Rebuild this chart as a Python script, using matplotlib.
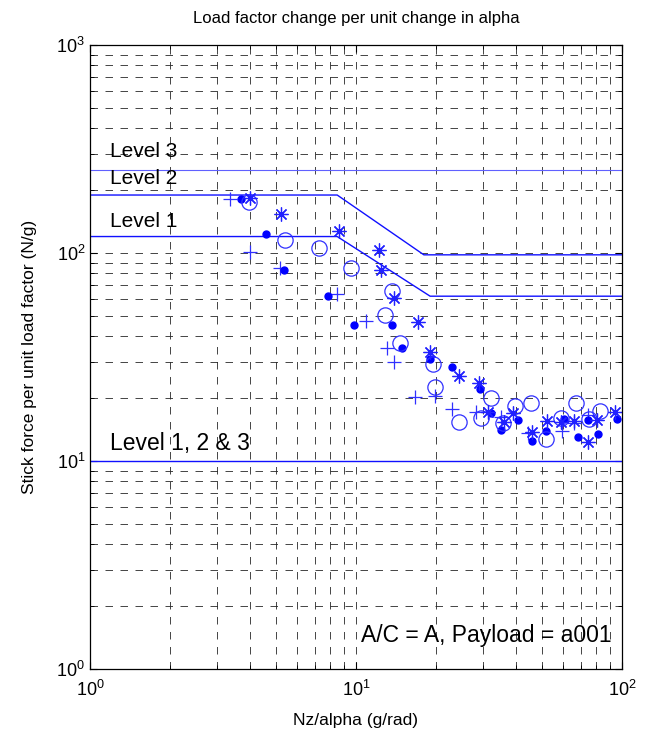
#! /usr/bin/env python3

import matplotlib
matplotlib.use("Agg")
import matplotlib.pyplot as plt
from matplotlib.ticker import LogLocator, NullFormatter

plt.rcParams['font.family'] = ['Liberation Sans', 'DejaVu Sans']
plt.rcParams['mathtext.fontset'] = 'custom'
plt.rcParams['mathtext.rm'] = 'Liberation Sans'

# Requirement boundaries (Nz/alpha, N/g)
lvl1_x = [1, 8.5, 19, 100]
lvl1_y = [120, 120, 62, 62]
lvl2_x = [1, 8.5, 18, 100]
lvl2_y = [190, 190, 98, 98]
lvl3_x = [1, 100]
lvl3_y = [250, 250]
low_x = [1, 100]
low_y = [10, 10]

# Flight test points, one list pair per marker
plus_x = [3.35, 4.0, 5.2, 8.45, 10.9, 13.1, 13.9, 16.7, 19.9, 23.0, 28.3,
          35.2, 44.4, 59.6, 66.1, 74.5]
plus_y = [182, 101, 85, 63.5, 47, 35, 30, 20.3, 20.5, 17.8, 17.2, 16.3,
          13.6, 13.9, 15.2, 16.7]

dot_x = [3.71, 4.6, 5.35, 7.82, 9.87, 13.7, 14.9, 18.9, 22.9, 29.2, 32.2,
         35.2, 40.7, 45.8, 51.6, 60.6, 68.4, 74.5, 81.6, 95.8]
dot_y = [182, 123, 82.9, 62.3, 45.1, 45.1, 34.9, 31.1, 28.3, 22.1, 17.0,
         14.1, 15.7, 12.5, 14.0, 16.0, 13.0, 15.7, 13.5, 16.0]

circ_x = [3.95, 5.42, 7.23, 9.59, 12.9, 13.7, 14.6, 19.5, 19.8, 24.3, 29.4,
          32.2, 35.8, 39.7, 45.4, 51.7, 58.9, 67.0, 75.5, 82.6]
circ_y = [176, 115, 106, 84.7, 50.6, 65.6, 36.9, 29.3, 22.6, 15.4, 16.1,
          20.2, 15.2, 18.3, 19.1, 12.7, 16.1, 19.1, 16.0, 17.4]

star_x = [4.0, 5.24, 8.67, 12.2, 12.4, 13.9, 17.1, 18.9, 24.3, 29.1, 31.4,
          36.1, 39.0, 45.8, 52.3, 58.9, 66.1, 74.8, 80.8, 94.1]
star_y = [184, 154, 128, 103, 82.4, 60.6, 46.8, 33.5, 25.5, 23.7, 17.3,
          15.4, 17.0, 13.8, 15.6, 15.4, 15.6, 12.3, 15.7, 17.2]

fig = plt.figure(figsize=(6.54, 7.4), dpi=100)
ax = fig.add_axes([0.1376, 0.0959, 0.8134, 0.8433])

ax.plot(lvl3_x, lvl3_y, color='#6060ff', lw=0.8)
ax.plot(lvl2_x, lvl2_y, color='#1010ff', lw=1.0)
ax.plot(lvl1_x, lvl1_y, color='#1010ff', lw=1.0)
ax.plot(low_x, low_y, color='#1010ff', lw=1.0)

ax.plot(plus_x, plus_y, ls='none', marker='+', ms=10, mew=0.9, color='#3030ff')
ax.plot(dot_x, dot_y, ls='none', marker='o', ms=5, color='#0000ff')
ax.plot(circ_x, circ_y, ls='none', marker='o', ms=11, mew=0.9,
        mfc='none', mec='#3030ff')
ax.plot(star_x, star_y, ls='none', marker=(8, 2, 0), ms=10, mew=0.9,
        color='#2020ff')

ax.text(1.19, 306, "Level 3", fontsize=15, va='center')
ax.text(1.19, 229, "Level 2", fontsize=15, va='center')
ax.text(1.19, 142, "Level 1", fontsize=15, va='center')
ax.text(1.19, 12.2, "Level 1, 2 & 3", fontsize=16.5, va='center')
ax.text(0.981, 0.053, "A/C = A, Payload = a001", fontsize=16.5,
        ha='right', va='center', transform=ax.transAxes)

ax.set_xscale('log')
ax.set_yscale('log')
ax.set_xlim(1, 100)
ax.set_ylim(1, 1000)
for axis in (ax.xaxis, ax.yaxis):
    axis.set_major_locator(LogLocator(base=10))
    axis.set_minor_locator(LogLocator(base=10, subs=range(2, 10)))
    axis.set_minor_formatter(NullFormatter())

ax.grid(True, which='both', color='0.15', lw=0.6, ls=(0, (9, 9)))
ax.tick_params(which='both', direction='in', top=True, right=True,
               labelsize=13)
ax.tick_params(axis='x', which='major', pad=8)
ax.tick_params(which='major', length=5)
ax.tick_params(which='minor', length=3)
for s in ax.spines.values():
    s.set_linewidth(0.9)

ax.set_title("Load factor change per unit change in alpha", fontsize=12, pad=16)
ax.set_xlabel("Nz/alpha (g/rad)", fontsize=12.5, labelpad=9)
ax.set_ylabel("Stick force per unit load factor (N/g)", fontsize=12.5,
              labelpad=14)

fig.savefig("out.png", dpi=100)
